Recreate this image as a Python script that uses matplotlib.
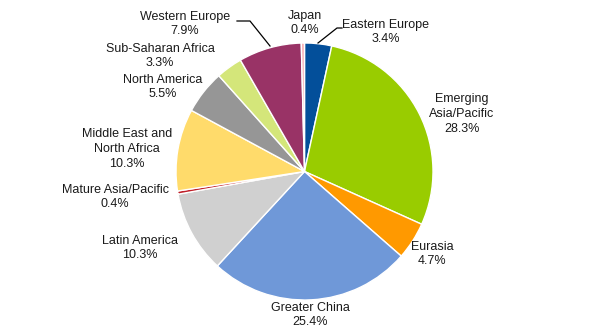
import matplotlib
matplotlib.use("Agg")
import matplotlib.pyplot as plt

plt.rcParams['font.family'] = ['Liberation Sans', 'DejaVu Sans']

regions = ['Eastern Europe', 'Emerging\nAsia/Pacific', 'Eurasia', 'Greater China',
           'Latin America', 'Mature Asia/Pacific', 'Middle East and\nNorth Africa',
           'North America', 'Sub-Saharan Africa', 'Western Europe', 'Japan']
shares = [3.4, 28.3, 4.7, 25.4, 10.3, 0.4, 10.3, 5.5, 3.3, 7.9, 0.4]
colors = ['#034f9a', '#99cc00', '#ff9900', '#6f98d8', '#d0d0d0', '#c0202a',
          '#ffdb6b', '#969696', '#d4e67a', '#993366', '#f7b3b8']

# label centres in pixel coords (x from left, y from top)
label_pos = [(386, 32), (462, 114), (432, 254), (310, 315), (140, 248), (115, 197),
             (127, 149), (163, 87), (160, 56), (185, 24), (305, 23)]

W, H = 601, 335
fig = plt.figure(figsize=(W / 100, H / 100), dpi=100)
ax = fig.add_axes([0, 0, 1, 1])

cx, cy, r = 304.5, H - 171.5, 128.5
ax.pie(shares, colors=colors, startangle=90, counterclock=False,
       center=(cx, cy), radius=r, frame=True,
       wedgeprops=dict(edgecolor='white', linewidth=1.0))
ax.set_xlim(0, W)
ax.set_ylim(0, H)
ax.set_aspect('equal')
ax.axis('off')

for name, val, (x, y) in zip(regions, shares, label_pos):
    ax.text(x, H - y, f'{name}\n{val}%', ha='center', va='center',
            fontsize=9, color='#1a1a1a', linespacing=1.3)

# leader lines
ax.plot([237, 250, 270], [H - 21, H - 21, H - 46], color='black', lw=0.9)
ax.plot([318, 337, 342], [H - 43, H - 28, H - 28], color='black', lw=0.9)

fig.savefig('out.png', dpi=100)
